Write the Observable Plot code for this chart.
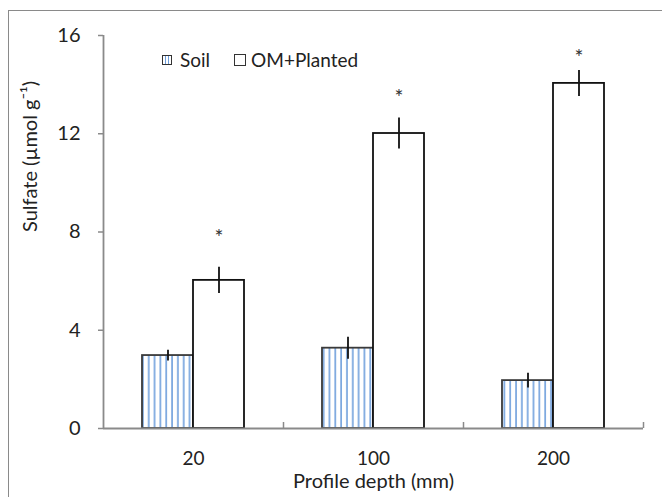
<!DOCTYPE html>
<html>
<head>
<meta charset="utf-8">
<script src="https://cdn.jsdelivr.net/npm/d3@7"></script>
<script src="https://cdn.jsdelivr.net/npm/@observablehq/plot@0.6"></script>
<style>
  body { margin: 0; background: #fff; }
  #wrap { position: relative; width: 662px; height: 497px; overflow: hidden; font-family: Lato, sans-serif; }
  #border { position: absolute; left: 8px; top: 10px; width: 700px; height: 600px; border: 1px solid #8a8a8a; box-sizing: border-box; }
  #chart { position: absolute; left: 0; top: 0; }
  #legend { position: absolute; left: 162px; top: 48px; display: flex; align-items: center; font-size: 19px; color: #222; white-space: nowrap; }
  .item { display: flex; align-items: center; margin-right: 24px; }
  .sw { width: 8px; height: 8px; border: 1px solid #333; margin-right: 8px; }
  .sw.soil { background: repeating-linear-gradient(90deg, #fff 0px, #fff 1.5px, #6f9fdc 1.5px, #6f9fdc 3px); }
  .sw.om { background: #fff; width: 10px; height: 10px; margin-right: 5px; }
</style>
</head>
<body>
<div id="wrap">
  <div id="border"></div>
  <div id="chart"></div>
  <div id="legend"></div>
</div>
<script>
// ---- data ----
const depths = ["20", "100", "200"];
const seriesNames = ["Soil", "OM+Planted"];
const soilValues = [2.97, 3.27, 1.95];
const soilErrors = [0.22, 0.45, 0.30];
const omValues = [6.03, 12.01, 14.05];
const omErrors = [0.53, 0.63, 0.53];
const starLabels = ["*", "*", "*"];
const starLevels = [7.94, 13.64, 15.27];
const yTicks = [0, 4, 8, 12, 16];
const xLabel = "Profile depth (mm)";
const yLabel = "Sulfate (\u00b5mol g\u207b\u00b9)";

const soilRows = depths.map((d, i) => ({depth: d, value: soilValues[i], err: soilErrors[i]}));
const omRows = depths.map((d, i) => ({depth: d, value: omValues[i], err: omErrors[i], star: starLevels[i], label: starLabels[i]}));

const axisGray = "#8a8a8a";
const font = "Lato, sans-serif";

const plot = Plot.plot({
  width: 662,
  height: 497,
  marginLeft: 103,
  marginRight: 19,
  marginTop: 35,
  marginBottom: 69,
  style: {background: "transparent", fontFamily: font, color: "#222"},
  x: {type: "band", domain: depths, padding: 0, axis: null},
  y: {domain: [0, 16], axis: null},
  marks: [
    Plot.barY(soilRows, {x: "depth", y: "value", fill: "url(#hatch)", stroke: "#3a3a3a", strokeWidth: 1.8, insetLeft: 39, insetRight: 90}),
    Plot.barY(omRows, {x: "depth", y: "value", fill: "white", stroke: "#111", strokeWidth: 1.8, insetLeft: 90, insetRight: 39}),
    Plot.ruleX(soilRows, {x: "depth", y1: d => d.value - d.err, y2: d => d.value + d.err, dx: -25.5, stroke: "#111", strokeWidth: 1.8}),
    Plot.ruleX(omRows, {x: "depth", y1: d => d.value - d.err, y2: d => d.value + d.err, dx: 25.5, stroke: "#111", strokeWidth: 1.8}),
    Plot.text(omRows, {x: "depth", y: "star", text: "label", dx: 25.5, dy: 5, fontSize: 21, fill: "#333"}),
    Plot.ruleY([0], {stroke: axisGray, strokeWidth: 1.8}),
    Plot.ruleX([depths[0]], {dx: -90, stroke: axisGray, strokeWidth: 1.8}),
    Plot.axisY({ticks: yTicks, tickSize: 5, tickPadding: 18, stroke: axisGray, strokeWidth: 1.5, fontSize: 20, fill: "#222", label: null}),
    Plot.axisX({tickSize: -6, dx: 90, tickFormat: () => "", stroke: axisGray, strokeWidth: 1.5, label: null}),
    Plot.axisX({tickSize: 0, tickPadding: 23, fontSize: 19, fill: "#222", label: null}),
    Plot.text([xLabel], {frameAnchor: "bottom", dy: 59, text: d => d, fontSize: 20, fill: "#222"}),
    Plot.text([yLabel], {frameAnchor: "left", dx: -73, rotate: -90, text: d => d, fontSize: 20, fill: "#222"})
  ]
});

const svg = d3.select(plot);
const defs = svg.insert("defs", ":first-child");
const pat = defs.append("pattern")
  .attr("id", "hatch")
  .attr("patternUnits", "userSpaceOnUse")
  .attr("width", 5.83)
  .attr("height", 10);
pat.append("rect").attr("width", 5.83).attr("height", 10).attr("fill", "white");
pat.append("line").attr("x1", 3).attr("x2", 3).attr("y1", 0).attr("y2", 10)
  .attr("stroke", "#6f9fdc").attr("stroke-width", 1.6);

document.getElementById("chart").appendChild(plot);

// legend
const legend = document.getElementById("legend");
seriesNames.forEach((name, i) => {
  const item = document.createElement("div");
  item.className = "item";
  const sw = document.createElement("div");
  sw.className = "sw " + (i === 0 ? "soil" : "om");
  const label = document.createElement("span");
  label.textContent = name;
  item.appendChild(sw);
  item.appendChild(label);
  legend.appendChild(item);
});
</script>
</body>
</html>
